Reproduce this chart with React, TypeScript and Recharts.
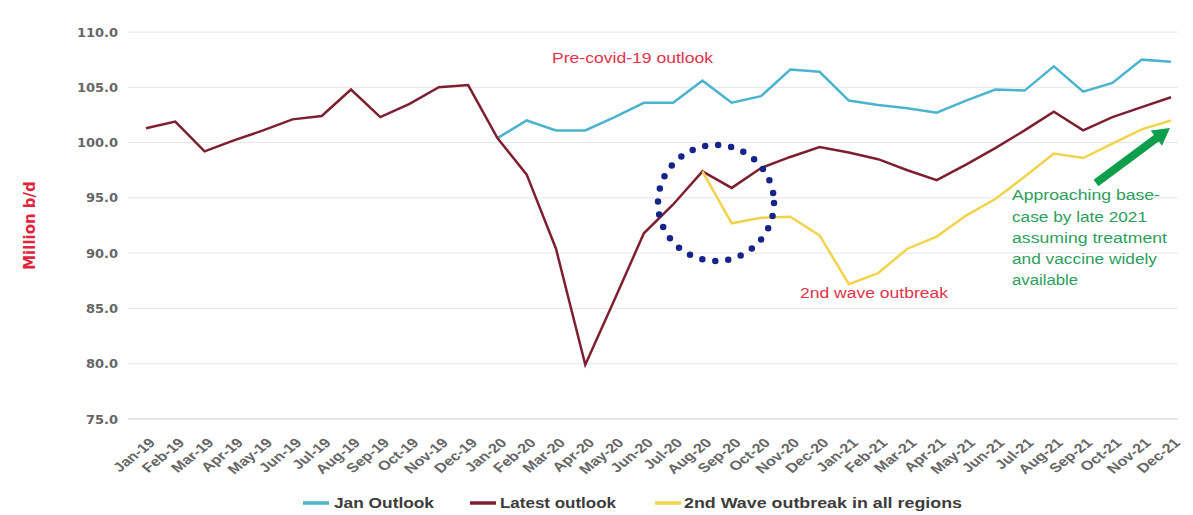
import React from 'react';
import { LineChart, Line, XAxis, YAxis, CartesianGrid, Legend } from 'recharts';

const months = [
  'Jan-19', 'Feb-19', 'Mar-19', 'Apr-19', 'May-19', 'Jun-19', 'Jul-19', 'Aug-19', 'Sep-19', 'Oct-19', 'Nov-19', 'Dec-19',
  'Jan-20', 'Feb-20', 'Mar-20', 'Apr-20', 'May-20', 'Jun-20', 'Jul-20', 'Aug-20', 'Sep-20', 'Oct-20', 'Nov-20', 'Dec-20',
  'Jan-21', 'Feb-21', 'Mar-21', 'Apr-21', 'May-21', 'Jun-21', 'Jul-21', 'Aug-21', 'Sep-21', 'Oct-21', 'Nov-21', 'Dec-21',
];

const janOutlook: (number | null)[] = [
  null, null, null, null, null, null, null, null, null, null, null, null,
  100.4, 102.0, 101.1, 101.1, 102.3, 103.6, 103.6, 105.6, 103.6, 104.2, 106.6, 106.4,
  103.8, 103.4, 103.1, 102.7, 103.8, 104.8, 104.7, 106.9, 104.6, 105.4, 107.5, 107.3,
];

const latestOutlook: (number | null)[] = [
  101.3, 101.9, 99.2, 100.2, 101.1, 102.1, 102.4, 104.8, 102.3, 103.5, 105.0, 105.2,
  100.4, 97.1, 90.4, 79.9, 85.8, 91.8, 94.4, 97.4, 95.9, 97.7, 98.7, 99.6,
  99.1, 98.5, 97.5, 96.6, 98.0, 99.5, 101.1, 102.8, 101.1, 102.3, 103.2, 104.1,
];

const secondWave: (number | null)[] = [
  null, null, null, null, null, null, null, null, null, null, null, null,
  null, null, null, null, null, null, null, 97.4, 92.7, 93.2, 93.3, 91.6,
  87.2, 88.2, 90.4, 91.5, 93.4, 94.9, 96.9, 99.0, 98.6, 99.9, 101.2, 102.0,
];

const yTicks = [75, 80, 85, 90, 95, 100, 105, 110];

const seriesNames = ['Jan Outlook', 'Latest outlook', '2nd Wave outbreak in all regions'];
const seriesColors = ['#4BB4CD', '#7E1F30', '#F2D34C'];

const data = months.map((m, i) => ({
  month: m,
  jan: janOutlook[i],
  latest: latestOutlook[i],
  wave: secondWave[i],
}));

const FONT = '"DejaVu Sans", "Liberation Sans", Arial, sans-serif';
const AFONT = '"Liberation Sans", Arial, sans-serif';

const XTick = (props: any) => {
  const { x, y, payload } = props;
  return (
    <g transform={`translate(${x + 2},${y}) scale(1.25,1) rotate(-45)`}>
      <text
        x={0}
        y={0}
        dy="0.71em"
        textAnchor="end"
        fill="#666666"
        fontFamily={AFONT}
        fontWeight="bold"
        fontSize={13}
      >
        {payload.value}
      </text>
    </g>
  );
};

const YLabel = (props: any) => {
  const vb = props.viewBox || { x: 0, y: 32, width: 128, height: 387 };
  const cx = vb.x + 30;
  const cy = vb.y + vb.height / 2;
  return (
    <text
      x={cx}
      y={cy}
      transform={`rotate(-90 ${cx} ${cy})`}
      textAnchor="middle"
      dominantBaseline="central"
      fill="#E2233C"
      fontFamily={FONT}
      fontWeight="bold"
      fontSize={15}
    >
      Million b/d
    </text>
  );
};

const legendItems = [
  { name: seriesNames[0], color: seriesColors[0], iconX: 303, textX: 334, textW: 100 },
  { name: seriesNames[1], color: seriesColors[1], iconX: 470, textX: 500, textW: 116 },
  { name: seriesNames[2], color: seriesColors[2], iconX: 655, textX: 684, textW: 278 },
];

const LegendContent = () => (
  <svg width={1193} height={24} style={{ display: 'block' }}>
    {legendItems.map((it) => (
      <g key={it.name}>
        <line x1={it.iconX} x2={it.iconX + 26} y1={12} y2={12} stroke={it.color} strokeWidth={3.5} />
        <text
          x={it.textX}
          y={17}
          fill="#3C3C3C"
          fontFamily={AFONT}
          fontWeight="bold"
          fontSize={14}
          textLength={it.textW}
          lengthAdjust="spacingAndGlyphs"
        >
          {it.name}
        </text>
      </g>
    ))}
  </svg>
);

const arrowTail = { x: 1096, y: 183 };
const arrowTip = { x: 1170, y: 128 };

const Annotations = () => {
  const dx = arrowTip.x - arrowTail.x;
  const dy = arrowTip.y - arrowTail.y;
  const len = Math.sqrt(dx * dx + dy * dy);
  const ux = dx / len;
  const uy = dy / len;
  const px = -uy;
  const py = ux;
  const headLen = 17;
  const headHalf = 9.5;
  const bx = arrowTip.x - ux * headLen;
  const by = arrowTip.y - uy * headLen;
  const head = `${arrowTip.x},${arrowTip.y} ${bx + px * headHalf},${by + py * headHalf} ${bx - px * headHalf},${by - py * headHalf}`;
  const greenLines = [
    { t: 'Approaching base-', y: 200, w: 148 },
    { t: 'case by late 2021', y: 222, w: 135 },
    { t: 'assuming treatment', y: 243, w: 155 },
    { t: 'and vaccine widely', y: 264, w: 145 },
    { t: 'available', y: 285, w: 66 },
  ];
  return (
    <svg
      width={1193}
      height={515}
      style={{ position: 'absolute', left: 0, top: 0, pointerEvents: 'none' }}
    >
      <text x={552} y={63} fill="#E2334B" fontFamily={AFONT} fontSize={14} textLength={161} lengthAdjust="spacingAndGlyphs">
        Pre-covid-19 outlook
      </text>
      <text x={800} y={298} fill="#E2334B" fontFamily={AFONT} fontSize={14} textLength={148} lengthAdjust="spacingAndGlyphs">
        2nd wave outbreak
      </text>
      {greenLines.map((l) => (
        <text key={l.t} x={1012} y={l.y} fill="#2E9E5C" fontFamily={AFONT} fontSize={14} textLength={l.w} lengthAdjust="spacingAndGlyphs">
          {l.t}
        </text>
      ))}
      <circle
        cx={716}
        cy={203}
        r={58}
        fill="none"
        stroke="#16248A"
        strokeWidth={6.5}
        strokeLinecap="round"
        strokeDasharray="0 13.1"
      />
      <line x1={arrowTail.x} y1={arrowTail.y} x2={bx + ux * 2} y2={by + uy * 2} stroke="#0E9F4C" strokeWidth={8} />
      <polygon points={head} fill="#0E9F4C" />
    </svg>
  );
};

export default function App() {
  return (
    <div style={{ position: 'absolute', left: 0, top: 0, width: 1193, height: 515, background: '#fff' }}>
      <LineChart
        width={1193}
        height={515}
        data={data}
        margin={{ top: 32, right: 15, left: 0, bottom: 0 }}
      >
        <CartesianGrid horizontal vertical={false} stroke="#E6E6E6" strokeWidth={1} />
        <XAxis
          dataKey="month"
          interval={0}
          height={72}
          padding={{ left: 18, right: 7 }}
          tickLine={false}
          tickSize={6}
          tickMargin={12}
          axisLine={{ stroke: '#D9D9D9' }}
          tick={<XTick />}
        />
        <YAxis
          width={128}
          domain={[75, 110]}
          ticks={yTicks}
          interval={0}
          axisLine={false}
          tickLine={false}
          tickSize={6}
          tickMargin={4}
          tickFormatter={(v: number) => v.toFixed(1)}
          tick={{ fill: '#666666', fontFamily: FONT, fontWeight: 'bold', fontSize: 13 }}
          label={<YLabel />}
        />
        <Legend
          verticalAlign="bottom"
          content={<LegendContent />}
          wrapperStyle={{ left: 0, width: 1193, height: 24 }}
        />
        <Line
          type="linear"
          dataKey="jan"
          name={seriesNames[0]}
          stroke={seriesColors[0]}
          strokeWidth={2.5}
          dot={false}
          isAnimationActive={false}
        />
        <Line
          type="linear"
          dataKey="latest"
          name={seriesNames[1]}
          stroke={seriesColors[1]}
          strokeWidth={2.5}
          dot={false}
          isAnimationActive={false}
        />
        <Line
          type="linear"
          dataKey="wave"
          name={seriesNames[2]}
          stroke={seriesColors[2]}
          strokeWidth={2.5}
          dot={false}
          isAnimationActive={false}
        />
      </LineChart>
      <Annotations />
    </div>
  );
}
